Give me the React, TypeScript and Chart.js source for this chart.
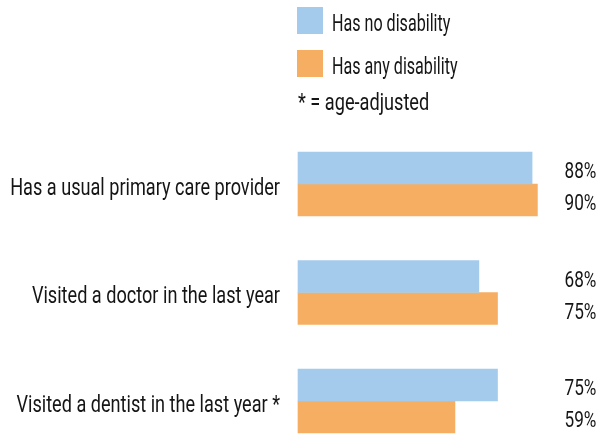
import React, { useEffect, useRef } from "react";
import { Chart, registerables } from "chart.js";

Chart.register(...registerables);

const categories = [
  "Has a usual primary care provider",
  "Visited a doctor in the last year",
  "Visited a dentist in the last year *",
];
const seriesNames = ["Has no disability", "Has any disability"];
const noDisability = [88, 68, 75];
const anyDisability = [90, 75, 59];
const colors = ["#a4cbeb", "#f6ae62"];
const noteText = "* = age-adjusted";

const FONT = "Roboto, 'DejaVu Sans Condensed', sans-serif";
const TEXT = "#151515";
const SX = 0.755;

function drawText(ctx: any, text: string, x: number, y: number, size: number, align: string, sx = SX) {
  ctx.save();
  ctx.translate(x, y);
  ctx.scale(sx, 1);
  ctx.font = `${size}px ${FONT}`;
  ctx.textAlign = align;
  ctx.textBaseline = "alphabetic";
  ctx.fillStyle = TEXT;
  ctx.fillText(text, 0, 0);
  ctx.restore();
}

const overlayPlugin = {
  id: "overlay",
  afterDraw(chart: any) {
    const ctx = chart.ctx;
    const area = chart.chartArea;
    const yScale = chart.scales.y;
    // category labels
    chart.data.labels.forEach((lab: string, i: number) => {
      drawText(ctx, lab, area.left - 18, yScale.getPixelForValue(i) + 10.5, 24, "right");
    });
    // value labels
    chart.data.datasets.forEach((ds: any, di: number) => {
      const meta = chart.getDatasetMeta(di);
      meta.data.forEach((bar: any, i: number) => {
        drawText(ctx, `${ds.data[i]}%`, area.right + 0.5, bar.y + 10, 22, "left", 0.78);
      });
    });
    // legend
    const x0 = area.left;
    const boxes = [[7, 31], [50, 74]];
    chart.data.datasets.forEach((ds: any, di: number) => {
      const [top, base] = boxes[di];
      ctx.save();
      ctx.fillStyle = ds.backgroundColor;
      ctx.fillRect(x0 - 1, top, 26, 27);
      ctx.restore();
      drawText(ctx, ds.label, x0 + 34, base, 23, "left", 0.7);
    });
    drawText(ctx, noteText, x0, 110, 23, "left", 0.79);
  },
};

export default function App() {
  const ref = useRef<HTMLCanvasElement>(null);
  useEffect(() => {
    if (!ref.current) return;
    const chart = new Chart(ref.current, {
      type: "bar",
      data: {
        labels: categories,
        datasets: [
          { label: seriesNames[0], data: noDisability, backgroundColor: colors[0], barThickness: 32, clip: false } as any,
          { label: seriesNames[1], data: anyDisability, backgroundColor: colors[1], barThickness: 32, clip: false } as any,
        ],
      },
      options: {
        indexAxis: "y",
        animation: false,
        responsive: true,
        maintainAspectRatio: false,
        layout: { padding: { top: 184, bottom: 35, left: 0, right: 35 } },
        plugins: { legend: { display: false }, tooltip: { enabled: false } },
        scales: {
          x: { display: false, min: 0, max: 100 },
          y: {
            offset: false,
            grid: { display: false },
            border: { display: false },
            ticks: { display: false },
            afterFit(scale: any) {
              scale.width = 298;
            },
          },
        },
      },
      plugins: [overlayPlugin],
    });
    return () => chart.destroy();
  }, []);
  return (
    <div style={{ position: "fixed", left: 0, top: 0, width: 599, height: 436, background: "#fff" }}>
      <canvas ref={ref} />
    </div>
  );
}
